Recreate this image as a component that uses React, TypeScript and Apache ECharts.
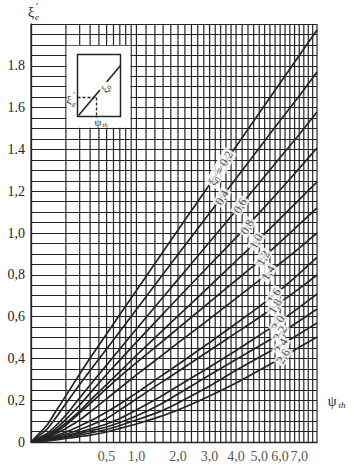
import React, { useEffect, useRef } from 'react';
import * as echarts from 'echarts';

// psi_th values at which the curves were read
const PSI = [0, 0.02, 0.05, 0.1, 0.2, 0.3, 0.5, 0.7, 1, 1.5, 2, 3, 4, 5, 6, 7, 8];

// xi'_e for each xi_0 curve
const C02 = [0, 0.081, 0.148, 0.222, 0.325, 0.402, 0.517, 0.61, 0.725, 0.883, 1.014, 1.232, 1.414, 1.574, 1.718, 1.849, 1.971];
const C04 = [0, 0.062, 0.117, 0.184, 0.275, 0.342, 0.445, 0.529, 0.634, 0.778, 0.897, 1.096, 1.261, 1.407, 1.538, 1.656, 1.77];
const C06 = [0, 0.041, 0.079, 0.129, 0.211, 0.273, 0.368, 0.445, 0.541, 0.67, 0.778, 0.957, 1.108, 1.239, 1.361, 1.471, 1.579];
const C08 = [0, 0.033, 0.065, 0.108, 0.177, 0.234, 0.323, 0.392, 0.478, 0.593, 0.689, 0.847, 0.978, 1.096, 1.206, 1.309, 1.407];
const C10 = [0, 0.029, 0.055, 0.091, 0.148, 0.199, 0.275, 0.337, 0.414, 0.517, 0.603, 0.746, 0.866, 0.971, 1.069, 1.16, 1.244];
const C12 = [0, 0.024, 0.048, 0.081, 0.139, 0.184, 0.256, 0.313, 0.38, 0.468, 0.544, 0.669, 0.774, 0.865, 0.956, 1.041, 1.12];
const C14 = [0, 0.0215, 0.041, 0.065, 0.105, 0.144, 0.206, 0.258, 0.321, 0.404, 0.474, 0.589, 0.687, 0.773, 0.854, 0.928, 1.0];
const C16 = [0, 0.0167, 0.031, 0.048, 0.077, 0.1, 0.144, 0.182, 0.234, 0.309, 0.371, 0.476, 0.567, 0.648, 0.727, 0.806, 0.883];
const C18 = [0, 0.0144, 0.026, 0.038, 0.06, 0.079, 0.112, 0.153, 0.206, 0.278, 0.337, 0.438, 0.522, 0.596, 0.667, 0.734, 0.799];
const C20 = [0, 0.012, 0.0215, 0.031, 0.048, 0.062, 0.086, 0.112, 0.153, 0.213, 0.268, 0.359, 0.438, 0.51, 0.577, 0.644, 0.708];
const C22 = [0, 0.0096, 0.0167, 0.026, 0.041, 0.053, 0.072, 0.093, 0.124, 0.177, 0.23, 0.321, 0.395, 0.459, 0.519, 0.579, 0.636];
const C24 = [0, 0.0072, 0.0144, 0.0215, 0.0335, 0.043, 0.06, 0.079, 0.105, 0.144, 0.187, 0.268, 0.343, 0.405, 0.462, 0.517, 0.569];
const C26 = [0, 0.0048, 0.0096, 0.0167, 0.026, 0.033, 0.048, 0.065, 0.086, 0.12, 0.153, 0.22, 0.282, 0.343, 0.399, 0.453, 0.502];
const CURVES = [C02, C04, C06, C08, C10, C12, C14, C16, C18, C20, C22, C24, C26];

// curve labels and where they sit on each curve
const XI0_LABELS = ['0,2', '0,4', '0,6', '0,8', '1,0', '1,2', '1,4', '1,6', '1,8', '2,0', '2,2', '2,4', '2,6'];
const LABEL_PSI = [3.4, 3.45, 4.16, 4.46, 4.86, 5.17, 5.41, 5.7, 5.75, 5.9, 6.0, 6.05, 6.15];
const LABEL_XI = [1.31, 1.17, 1.13, 1.03, 0.96, 0.88, 0.81, 0.7, 0.65, 0.57, 0.52, 0.46, 0.41];

// axis ticks
const X_TICK_PSI = [0.5, 1, 2, 3, 4, 5, 6, 7];
const X_TICK_LABELS = ['0,5', '1,0', '2,0', '3,0', '4,0', '5,0', '6,0', '7,0'];
const Y_TICK_VALUES = [0, 0.2, 0.4, 0.6, 0.8, 1.0, 1.2, 1.4, 1.6, 1.8];
const Y_TICK_LABELS = ['0', '0,2', '0,4', '0,6', '0,8', '1,0', '1,2', '1.4', '1.6', '1.8'];

// vertical grid lines of the nomogram (psi_th)
const GRID_PSI = [0, 0.1, 0.2, 0.3, 0.4, 0.5, 0.6, 0.7, 0.8, 0.9, 1.0, 1.2, 1.4, 1.6, 1.8, 2.0, 2.2, 2.4, 2.6, 2.8, 3.0,
  3.2, 3.4, 3.6, 3.8, 4.0, 4.25, 4.5, 4.75, 5.0, 5.25, 5.5, 5.75, 6.0, 6.25, 6.5, 6.75, 7.0, 7.25, 7.5, 7.75, 8.0];

const EXP = 0.48;
const tr = (p: number) => Math.pow(p, EXP);
const T_MAX = tr(8);

export default function App() {
  const ref = useRef<HTMLDivElement>(null);
  useEffect(() => {
    if (!ref.current) return;
    const chart = echarts.init(ref.current, null, { renderer: 'svg' });
    const serif = "'Liberation Serif', 'DejaVu Serif', serif";
    const ink = '#242424';

    const curveSeries = CURVES.map((vals, i) => ({
      type: 'line',
      name: XI0_LABELS[i],
      data: PSI.map((p, j) => [tr(p), vals[j]]),
      symbol: 'none',
      showSymbol: false,
      smooth: 0.15,
      lineStyle: { color: ink, width: 1.7 },
      z: 3,
      silent: true,
    }));

    chart.setOption({
      animation: false,
      backgroundColor: '#fff',
      grid: { left: 31, top: 24, width: 286, height: 418 },
      xAxis: {
        type: 'value', min: 0, max: T_MAX,
        axisLine: { show: true, lineStyle: { color: ink, width: 1.3 } },
        axisTick: { show: false }, axisLabel: { show: false }, splitLine: { show: false },
      },
      yAxis: {
        type: 'value', min: 0, max: 2, interval: 0.05,
        axisLine: { show: true, lineStyle: { color: ink, width: 1.3 } },
        axisTick: { show: false },
        axisLabel: {
          margin: 6, fontFamily: serif, fontSize: 14, color: ink,
          formatter: (v: number) => {
            const k = Y_TICK_VALUES.findIndex((t) => Math.abs(t - v) < 1e-6);
            return k >= 0 ? Y_TICK_LABELS[k] : '';
          },
        },
        splitLine: { show: true, lineStyle: { color: ink, width: 1.2 } },
      },
      series: [
        {
          type: 'custom',
          silent: true,
          z: 1,
          data: GRID_PSI.map((p) => [tr(p), 0]),
          renderItem: (params: any, api: any) => {
            const x = api.value(0);
            const a = api.coord([x, 0]);
            const b = api.coord([x, 2]);
            return {
              type: 'line',
              shape: { x1: a[0], y1: a[1], x2: b[0], y2: b[1] },
              style: { stroke: ink, lineWidth: 1.2 },
            };
          },
        },
        ...curveSeries,
        {
          type: 'scatter',
          symbolSize: 0,
          silent: true,
          z: 6,
          data: LABEL_PSI.map((p, i) => [tr(p), LABEL_XI[i]]),
          label: {
            show: true,
            position: 'inside',
            rotate: 60,
            color: ink,
            fontFamily: serif,
            fontSize: 12,
            backgroundColor: '#fff',
            padding: [0, 2],
            formatter: (p: any) =>
              p.dataIndex === 0 ? '{g|ξ}{s|0}{n| = ' + XI0_LABELS[0] + '}' : XI0_LABELS[p.dataIndex],
            rich: {
              g: { fontFamily: serif, fontSize: 12, color: ink, lineHeight: 14 },
              s: { fontFamily: serif, fontSize: 8, color: ink, verticalAlign: 'bottom' },
              n: { fontFamily: serif, fontSize: 12, color: ink, lineHeight: 14 },
            },
          },
        },
        {
          type: 'scatter',
          symbolSize: 0,
          silent: true,
          clip: false,
          data: X_TICK_PSI.map((p) => [tr(p), 0]),
          label: {
            show: true,
            position: 'bottom',
            distance: 7,
            color: ink,
            fontFamily: serif,
            fontSize: 14,
            formatter: (p: any) => X_TICK_LABELS[p.dataIndex],
          },
        },
      ],
    });

    const tl = chart.convertToPixel({ gridIndex: 0 }, [tr(0.1), 1.9]) as number[];
    const br = chart.convertToPixel({ gridIndex: 0 }, [tr(0.9), 1.5]) as number[];
    const txt = (text: string, x: number, y: number, size: number, italic = false, extra: any = {}) => ({
      type: 'text',
      x, y, z: 60,
      style: {
        text, fill: ink, fontFamily: serif, fontSize: size, fontStyle: italic ? 'italic' : 'normal',
        align: 'center', verticalAlign: 'middle', textAlign: 'center', textVerticalAlign: 'middle',
      },
      ...extra,
    });

    chart.setOption({
      graphic: [
        { type: 'rect', z: 50, shape: { x: tl[0] + 0.8, y: tl[1] + 0.8, width: br[0] - tl[0] - 1.6, height: br[1] - tl[1] - 1.6 }, style: { fill: '#fff' } },
        { type: 'rect', z: 51, shape: { x: 77.5, y: 54.5, width: 43, height: 62 }, style: { fill: '#fff', stroke: ink, lineWidth: 1.5 } },
        { type: 'line', z: 52, shape: { x1: 78.5, y1: 115.5, x2: 120.5, y2: 65.5 }, style: { stroke: ink, lineWidth: 1.6 } },
        { type: 'line', z: 52, shape: { x1: 77.5, y1: 97.5, x2: 96.5, y2: 97.5 }, style: { stroke: ink, lineWidth: 1.3, lineDash: [3, 2] } },
        { type: 'line', z: 52, shape: { x1: 96.5, y1: 97.5, x2: 96.5, y2: 118 }, style: { stroke: ink, lineWidth: 1.3, lineDash: [3, 2] } },
        {
          type: 'text', z: 60, x: 106, y: 88, rotation: 0.9,
          style: {
            text: '{a|ξ}{b|0}', fill: ink, backgroundColor: '#fff', padding: [0, 1],
            align: 'center', verticalAlign: 'middle', textAlign: 'center', textVerticalAlign: 'middle',
            rich: {
              a: { fontFamily: serif, fontSize: 11, fill: ink, color: ink, lineHeight: 12 },
              b: { fontFamily: serif, fontSize: 7, fill: ink, color: ink, verticalAlign: 'bottom' },
            },
          },
        },
        txt('ξ', 69, 99, 11),
        txt('′', 74, 95, 8),
        txt('e', 74, 104, 8, true),
        txt('ψ', 98, 122, 11),
        txt('th', 105, 125, 7, true),
        txt('ξ', 31, 12, 14),
        txt('′', 37, 6, 10),
        txt('e', 37, 17, 9, true),
        txt('ψ', 332, 401, 14),
        txt('th', 342, 405, 9, true),
      ],
    });

    return () => chart.dispose();
  }, []);
  return <div ref={ref} style={{ position: 'absolute', left: 0, top: 0, width: 355, height: 470, background: '#fff' }} />;
}
